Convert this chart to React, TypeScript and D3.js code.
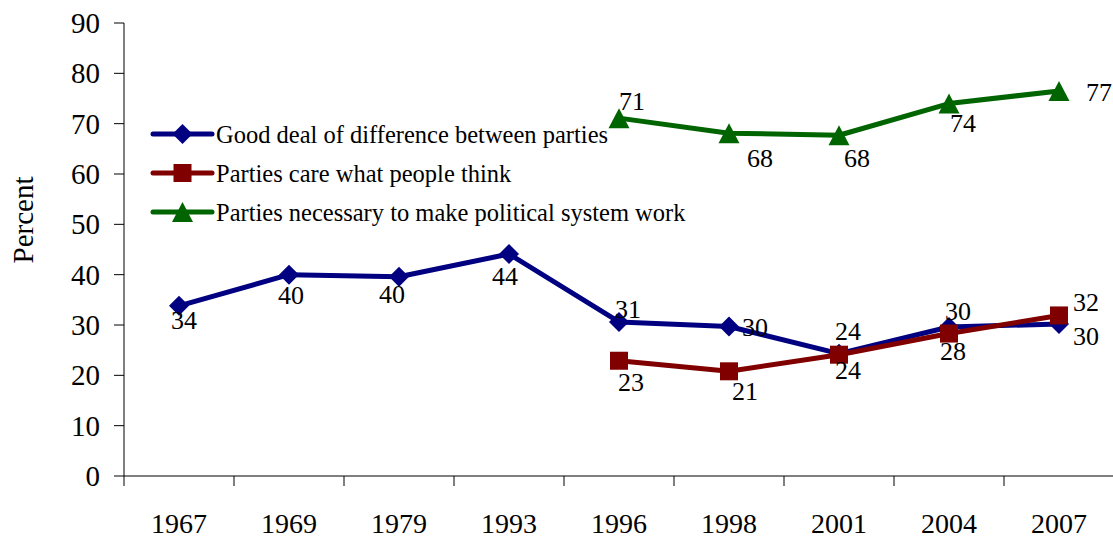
import React from 'react';
import * as d3 from 'd3';

const years = ['1967', '1969', '1979', '1993', '1996', '1998', '2001', '2004', '2007'];
const yTicks = [0, 10, 20, 30, 40, 50, 60, 70, 80, 90];

const differenceValues = [33.8, 40, 39.6, 44.1, 30.6, 29.7, 24.3, 29.6, 30.2];
const differenceLabels = ['34', '40', '40', '44', '31', '30', '24', '30', '30'];

const careValues = [null, null, null, null, 22.9, 20.8, 24.1, 28.3, 31.9];
const careLabels = ['', '', '', '', '23', '21', '24', '28', '32'];

const necessaryValues = [null, null, null, null, 71.1, 68.1, 67.7, 74.0, 76.5];
const necessaryLabels = ['', '', '', '', '71', '68', '68', '74', '77'];

// hand-placed label nudges (centre x, baseline y) relative to each point
const differenceNudge = [[5, 23], [2, 29], [-7, 26], [-4, 31], [9, -4], [26, 9], [9, -14], [9, -7], [27, 21]];
const careNudge = [[0, 0], [0, 0], [0, 0], [0, 0], [12, 30], [16, 29], [9, 24], [4, 26], [27, -4]];
const necessaryNudge = [[0, 0], [0, 0], [0, 0], [0, 0], [13, -8], [31, 34], [18, 32], [14, 28], [40, 10]];

const serif = { fontFamily: "'Liberation Serif', 'Times New Roman', Times, serif" };

type Shape = 'diamond' | 'square' | 'triangle';

const series = [
  { name: 'Good deal of difference between parties', values: differenceValues, labels: differenceLabels, nudge: differenceNudge, color: '#000080', shape: 'diamond' as Shape },
  { name: 'Parties care what people think', values: careValues, labels: careLabels, nudge: careNudge, color: '#800000', shape: 'square' as Shape },
  { name: 'Parties necessary to make political system work', values: necessaryValues, labels: necessaryLabels, nudge: necessaryNudge, color: '#006400', shape: 'triangle' as Shape },
];

const Marker = ({ shape, x, y, color }: { shape: Shape; x: number; y: number; color: string }) => {
  if (shape === 'diamond') {
    return <path d={`M${x},${y - 10}L${x + 10},${y}L${x},${y + 10}L${x - 10},${y}Z`} fill={color} />;
  }
  if (shape === 'square') {
    return <rect x={x - 9} y={y - 9} width={18} height={18} fill={color} />;
  }
  return <path d={`M${x},${y - 10}L${x + 10.5},${y + 10}L${x - 10.5},${y + 10}Z`} fill={color} />;
};

const App: React.FC = () => {
  const width = 1113;
  const height = 540;
  const x = d3.scaleBand<string>().domain(years).range([124, 1114]).padding(0);
  const y = d3.scaleLinear().domain([0, 90]).range([476, 23]);
  const cx = (i: number) => (x(years[i]) ?? 0) + x.bandwidth() / 2;

  const line = d3.line<number | null>()
    .defined(d => d !== null)
    .x((_, i) => cx(i))
    .y(d => y(d as number));

  const legendY = [134, 173, 212];

  return (
    <svg width={width} height={height} style={{ position: 'absolute', left: 0, top: 0, background: '#fff' }}>
      {/* y axis */}
      <line x1={124} x2={124} y1={23} y2={476} stroke="#000" strokeWidth={1} />
      {yTicks.map(t => (
        <g key={t}>
          <line x1={114} x2={124} y1={y(t)} y2={y(t)} stroke="#000" strokeWidth={1} />
          <text x={100} y={y(t)} dy="0.34em" textAnchor="end" fontSize={29} fill="#000" style={serif}>{t}</text>
        </g>
      ))}
      <text transform="translate(33,220) rotate(-90)" textAnchor="middle" fontSize={29} fill="#000" style={serif}>Percent</text>

      {/* x axis */}
      <line x1={124} x2={1114} y1={476} y2={476} stroke="#000" strokeWidth={1} />
      {years.map((yr, i) => (
        <g key={yr}>
          <line x1={x(yr)} x2={x(yr)} y1={476} y2={486} stroke="#000" strokeWidth={1} />
          <text x={cx(i)} y={533} textAnchor="middle" fontSize={28} fill="#000" style={serif}>{yr}</text>
        </g>
      ))}
      <line x1={1113.5} x2={1113.5} y1={476} y2={486} stroke="#000" strokeWidth={1} />

      {/* series */}
      {series.map(s => (
        <g key={s.name}>
          <path d={line(s.values) ?? ''} fill="none" stroke={s.color} strokeWidth={5} strokeLinejoin="round" />
          {s.values.map((v, i) => v === null ? null : (
            <Marker key={i} shape={s.shape} x={cx(i)} y={y(v)} color={s.color} />
          ))}
        </g>
      ))}
      {series.map(s => (
        <g key={s.name + '-labels'}>
          {s.values.map((v, i) => v === null ? null : (
            <text key={i} x={cx(i) + s.nudge[i][0]} y={y(v) + s.nudge[i][1]} textAnchor="middle" fontSize={26} fill="#000" style={serif}>{s.labels[i]}</text>
          ))}
        </g>
      ))}

      {/* legend */}
      {series.map((s, i) => (
        <g key={s.name + '-legend'}>
          <line x1={153} x2={212} y1={legendY[i]} y2={legendY[i]} stroke={s.color} strokeWidth={5} strokeLinecap="round" />
          <Marker shape={s.shape} x={182.5} y={legendY[i]} color={s.color} />
          <text x={216} y={legendY[i] + 9} fontSize={24.5} fill="#000" style={serif}>{s.name}</text>
        </g>
      ))}
    </svg>
  );
};

export default App;
